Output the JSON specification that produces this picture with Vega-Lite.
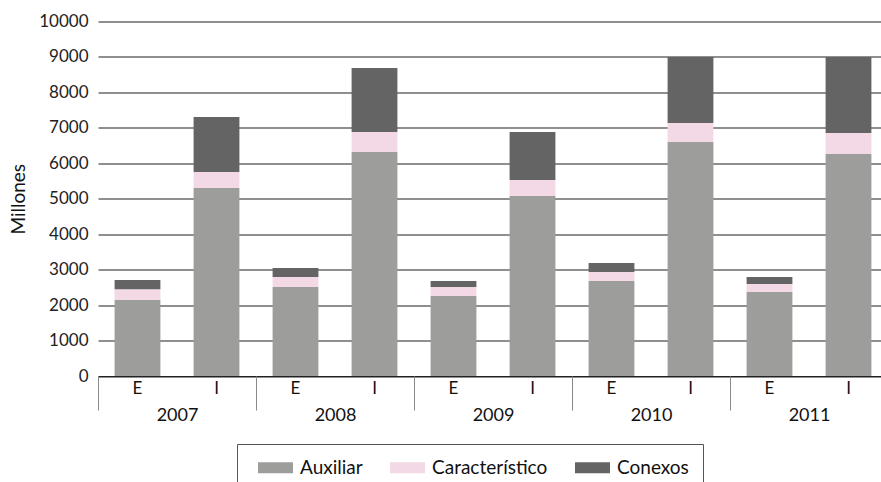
{
  "$schema": "https://vega.github.io/schema/vega-lite/v6.json",
  "autosize": {"type": "none"},
  "width": 790,
  "height": 354.5,
  "padding": {"left": 98, "top": 21.5, "right": -7, "bottom": 106},
  "background": "white",
  "config": {
    "font": "Lato",
    "view": {"stroke": null}
  },
  "data": {
    "values": [
      {"anio": "2007", "grupo": "2007 E", "categoria": "Auxiliar", "valor": 2150},
      {"anio": "2007", "grupo": "2007 E", "categoria": "Característico", "valor": 300},
      {"anio": "2007", "grupo": "2007 E", "categoria": "Conexos", "valor": 260},
      {"anio": "2007", "grupo": "2007 I", "categoria": "Auxiliar", "valor": 5300},
      {"anio": "2007", "grupo": "2007 I", "categoria": "Característico", "valor": 455},
      {"anio": "2007", "grupo": "2007 I", "categoria": "Conexos", "valor": 1550},
      {"anio": "2008", "grupo": "2008 E", "categoria": "Auxiliar", "valor": 2510},
      {"anio": "2008", "grupo": "2008 E", "categoria": "Característico", "valor": 280},
      {"anio": "2008", "grupo": "2008 E", "categoria": "Conexos", "valor": 255},
      {"anio": "2008", "grupo": "2008 I", "categoria": "Auxiliar", "valor": 6320},
      {"anio": "2008", "grupo": "2008 I", "categoria": "Característico", "valor": 565},
      {"anio": "2008", "grupo": "2008 I", "categoria": "Conexos", "valor": 1800},
      {"anio": "2009", "grupo": "2009 E", "categoria": "Auxiliar", "valor": 2260},
      {"anio": "2009", "grupo": "2009 E", "categoria": "Característico", "valor": 250},
      {"anio": "2009", "grupo": "2009 E", "categoria": "Conexos", "valor": 170},
      {"anio": "2009", "grupo": "2009 I", "categoria": "Auxiliar", "valor": 5080},
      {"anio": "2009", "grupo": "2009 I", "categoria": "Característico", "valor": 450},
      {"anio": "2009", "grupo": "2009 I", "categoria": "Conexos", "valor": 1355},
      {"anio": "2010", "grupo": "2010 E", "categoria": "Auxiliar", "valor": 2680},
      {"anio": "2010", "grupo": "2010 E", "categoria": "Característico", "valor": 255},
      {"anio": "2010", "grupo": "2010 E", "categoria": "Conexos", "valor": 255},
      {"anio": "2010", "grupo": "2010 I", "categoria": "Auxiliar", "valor": 6600},
      {"anio": "2010", "grupo": "2010 I", "categoria": "Característico", "valor": 535},
      {"anio": "2010", "grupo": "2010 I", "categoria": "Conexos", "valor": 1865},
      {"anio": "2011", "grupo": "2011 E", "categoria": "Auxiliar", "valor": 2370},
      {"anio": "2011", "grupo": "2011 E", "categoria": "Característico", "valor": 225},
      {"anio": "2011", "grupo": "2011 E", "categoria": "Conexos", "valor": 200},
      {"anio": "2011", "grupo": "2011 I", "categoria": "Auxiliar", "valor": 6260},
      {"anio": "2011", "grupo": "2011 I", "categoria": "Característico", "valor": 595},
      {"anio": "2011", "grupo": "2011 I", "categoria": "Conexos", "valor": 2145}
    ]
  },
  "layer": [
    {
      "mark": {"type": "bar"},
      "encoding": {
        "x": {
          "field": "grupo",
          "type": "nominal",
          "scale": {"paddingInner": 0.42, "paddingOuter": 0.21},
          "axis": {
            "orient": "bottom",
            "title": null,
            "labelAngle": 0,
            "labelExpr": "split(datum.label, ' ')[1]",
            "ticks": false,
            "domain": true,
            "domainColor": "#222222",
            "domainWidth": 1,
            "labelFontSize": 17,
            "labelColor": "#111111",
            "labelPadding": 4
          }
        },
        "y": {
          "field": "valor",
          "type": "quantitative",
          "aggregate": "sum",
          "stack": "zero",
          "scale": {"domain": [0, 10000], "nice": false},
          "axis": {
            "title": "Millones",
            "titleFontSize": 19,
            "titleFontWeight": "normal",
            "titleColor": "#111111",
            "titlePadding": 10,
            "values": [0, 1000, 2000, 3000, 4000, 5000, 6000, 7000, 8000, 9000, 10000],
            "format": "d",
            "domain": false,
            "ticks": false,
            "labelFontSize": 17,
            "labelColor": "#222222",
            "labelPadding": 10,
            "grid": true,
            "gridColor": "#6a6a6a",
            "gridWidth": 1.3
          }
        },
        "color": {
          "field": "categoria",
          "type": "nominal",
          "scale": {
            "domain": ["Auxiliar", "Característico", "Conexos"],
            "range": ["#9d9d9c", "#f2d9e5", "#646464"]
          },
          "legend": {
            "title": null,
            "orient": "none",
            "direction": "horizontal",
            "legendX": 139,
            "legendY": 422.5,
            "strokeColor": "#555555",
            "padding": 14,
            "symbolType": "M-3.1818,-1H3.1818V1H-3.1818Z",
            "symbolSize": 121,
            "symbolOffset": 15,
            "symbolStrokeWidth": 0,
            "labelFontSize": 19,
            "labelColor": "#111111",
            "labelOffset": 15,
            "columnPadding": 20
          }
        },
        "order": {"field": "categoria", "sort": "ascending"}
      }
    },
    {
      "mark": {"type": "rule", "opacity": 0},
      "encoding": {
        "x": {
          "field": "anio",
          "type": "nominal",
          "scale": {"paddingInner": 0, "paddingOuter": 0},
          "axis": {
            "orient": "bottom",
            "title": null,
            "labelAngle": 0,
            "tickBand": "extent",
            "ticks": true,
            "tickSize": 34,
            "tickColor": "#8a8a8a",
            "tickWidth": 1,
            "domain": false,
            "labelFontSize": 18,
            "labelColor": "#111111",
            "labelPadding": -4
          }
        }
      }
    }
  ],
  "resolve": {"scale": {"x": "independent"}, "axis": {"x": "independent"}}
}
